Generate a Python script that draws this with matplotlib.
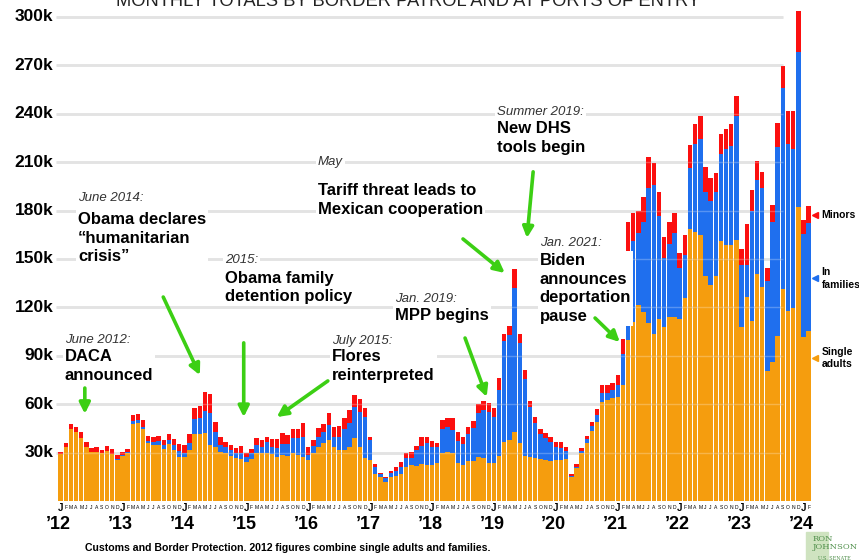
import matplotlib.pyplot as plt

# monthly totals in thousands, Jan 2012 - Feb 2024
single_adults = [
    29.0, 33.5, 44.6, 42.8, 39.0, 33.5, 30.4, 30.5, 29.8, 31.0, 29.0, 25.5,
    28.0, 29.5, 48.0, 48.5, 44.5, 36.0, 34.5, 34.5, 32.5, 35.5, 31.5, 27.0,
    27.0, 31.5, 41.5, 41.8, 42.0, 35.0, 33.5, 30.5, 30.0, 28.0, 26.5, 26.0,
    24.4, 25.8, 29.6, 29.6, 30.0, 29.0, 27.5, 28.5, 27.9, 29.6, 28.5, 27.1,
    25.4, 29.9, 33.7, 35.7, 37.8, 33.7, 31.6, 31.6, 33.7, 38.9, 33.7, 26.5,
    25.4, 16.7, 15.1, 12.0, 15.1, 15.5, 16.5, 21.3, 22.3, 21.7, 22.9, 22.3,
    22.0, 23.4, 30.0, 30.6, 30.0, 23.4, 22.3, 25.0, 25.0, 27.1, 26.5, 23.4,
    23.8, 27.9, 36.8, 37.8, 43.0, 35.8, 28.1, 27.5, 26.5, 25.8, 25.4, 25.0,
    25.4, 25.4, 25.8, 14.7, 20.3, 29.6, 35.8, 43.4, 49.2, 61.6, 62.6, 63.7,
    64.7, 71.7, 99.8, 110.8, 121.5, 117.4, 110.2, 103.5, 112.8, 108.1, 113.9, 114.3,
    112.7, 125.7, 168.6, 166.4, 164.9, 139.7, 133.9, 139.7, 161.2, 158.7, 158.7, 161.6,
    108.1, 126.3, 111.6, 140.6, 132.9, 80.6, 86.0, 102.3, 131.4, 117.8, 119.5, 182.5,
    101.9, 105.6,
]
in_families = [
    0, 0, 0, 0, 0, 0, 0, 0, 0, 0, 0, 0.7,
    0.8, 1.0, 1.5, 1.8, 1.5, 1.3, 2.0, 2.5, 2.5, 2.5, 3.0, 4.0,
    3.0, 4.5, 9.0, 9.5, 14.0, 19.5, 9.5, 4.5, 3.5, 3.5, 3.5, 4.0,
    2.6, 3.7, 5.1, 4.1, 6.8, 4.5, 5.4, 6.8, 7.4, 9.3, 10.4, 12.4,
    3.1, 4.4, 6.2, 6.9, 9.3, 5.8, 7.9, 13.0, 14.5, 19.2, 21.7, 25.4,
    12.4, 4.6, 1.6, 2.1, 2.5, 3.3, 4.4, 5.2, 4.2, 9.9, 11.2, 13.8,
    11.5, 10.3, 14.5, 15.4, 14.0, 14.0, 13.0, 16.5, 20.1, 27.6, 29.9, 32.0,
    28.1, 40.9, 62.6, 65.1, 88.9, 62.3, 47.3, 30.6, 21.7, 15.7, 13.5, 11.8,
    7.9, 7.3, 5.4, 0.8, 1.0, 1.6, 2.4, 3.1, 4.1, 5.2, 4.2, 5.1,
    7.2, 19.3, 53.8, 50.4, 44.5, 55.8, 83.7, 92.4, 64.1, 42.4, 45.3, 51.7,
    31.6, 26.8, 37.7, 54.8, 59.5, 51.7, 52.1, 51.7, 53.8, 59.5, 61.6, 76.7,
    38.2, 20.0, 68.2, 58.4, 61.0, 55.8, 86.8, 117.4, 124.5, 103.4, 98.7, 95.7,
    63.5, 66.6,
]
minors = [
    1.5, 2.5, 3.4, 3.2, 3.7, 3.1, 2.4, 3.0, 1.8, 3.0, 3.0, 2.3,
    1.5, 2.0, 3.8, 3.7, 4.0, 2.7, 3.0, 3.5, 3.0, 3.5, 4.0, 4.5,
    4.5, 5.5, 7.0, 7.7, 11.5, 11.5, 6.0, 4.5, 3.0, 3.0, 3.0, 4.0,
    2.6, 2.7, 4.2, 4.1, 3.1, 4.9, 5.5, 6.7, 5.7, 5.9, 5.9, 8.7,
    4.8, 3.5, 5.1, 4.9, 7.6, 6.5, 7.0, 6.7, 8.2, 7.6, 7.6, 5.6,
    2.1, 1.4, 0.9, 1.0, 1.2, 2.5, 3.5, 3.5, 4.1, 2.5, 5.8, 3.4,
    3.5, 2.3, 5.7, 5.3, 7.3, 5.6, 4.2, 4.5, 4.7, 5.4, 5.6, 5.2,
    6.0, 7.3, 3.9, 5.8, 11.8, 5.4, 5.8, 3.9, 3.7, 3.0, 3.1, 3.1,
    3.1, 3.7, 2.5, 1.2, 1.6, 1.5, 2.1, 2.7, 3.7, 5.1, 5.1, 4.6,
    6.0, 9.7, 19.2, 17.2, 14.0, 15.3, 19.2, 13.5, 14.5, 13.4, 14.0, 12.4,
    9.3, 12.4, 14.4, 12.5, 14.5, 15.5, 14.0, 11.8, 12.4, 12.3, 13.3, 13.0,
    9.7, 25.4, 13.0, 12.0, 10.3, 7.9, 10.7, 14.5, 13.4, 20.2, 23.6, 25.2,
    8.8, 10.7,
]
years = ['\u201912', '\u201913', '\u201914', '\u201915', '\u201916', '\u201917', '\u201918',
         '\u201919', '\u201920', '\u201921', '\u201922', '\u201923', '\u201924']
month_letters = ['J', 'F', 'M', 'A', 'M', 'J', 'J', 'A', 'S', 'O', 'N', 'D']
y_ticks = [30, 60, 90, 120, 150, 180, 210, 240, 270, 300]

ORANGE = '#f59d0e'
BLUE = '#1f6fee'
RED = '#fb0f0f'
GREEN = '#3ccf14'

plt.rcParams['font.family'] = ['Liberation Sans', 'DejaVu Sans']

fig = plt.figure(figsize=(8.59, 5.6), dpi=100)
ax = fig.add_axes([0.064, 0.1054, 0.902, 0.8946])
ax.set_xlim(-1.085, 149.1)
ax.set_ylim(0, 310.5)
for s in ax.spines.values():
    s.set_visible(False)
ax.set_xticks([])
ax.set_yticks([])

n = len(single_adults)
xs = list(range(n))
fam_base = [a for a in single_adults]
min_base = [a + f for a, f in zip(single_adults, in_families)]

ax.hlines(y_ticks, -0.8, 140, color='#dadada', lw=1.8, zorder=0)
ax.bar(xs, single_adults, width=0.86, color=ORANGE, zorder=2)
ax.bar(xs, in_families, width=0.86, bottom=fam_base, color=BLUE, zorder=2)
ax.bar(xs, minors, width=0.86, bottom=min_base, color=RED, zorder=2)
ax.hlines(y_ticks, -0.8, 140, color='white', lw=1, alpha=0.25, zorder=3)

for t in y_ticks:
    ax.text(-1.4, t, f'{t}k', ha='right', va='center', fontsize=12.5,
            fontweight='bold', clip_on=False)

# month initials and year labels under the bars
for i in xs:
    mo = i % 12
    if mo == 0:
        ax.text(i, -4.3, 'J', ha='center', va='center', fontsize=7,
                fontweight='bold', clip_on=False)
        ax.text(i - 0.4, -14.5, years[i // 12], ha='center', va='center',
                fontsize=13, fontweight='bold', clip_on=False)
    else:
        ax.text(i, -4.3, month_letters[mo], ha='center', va='center',
                fontsize=3.6, clip_on=False)

# right-hand key
key = [(177, 'Minors', RED), (138, 'In\nfamilies', BLUE), (88.7, 'Single\nadults', ORANGE)]
for yv, lab, col in key:
    ax.plot(146.3, yv, marker='<', color=col, markersize=5, clip_on=False)
    ax.text(147.5, yv, lab, ha='left', va='center', fontsize=7.5,
            fontweight='bold', linespacing=1.3, clip_on=False)

box = dict(facecolor='white', edgecolor='none', pad=1.5)


def note(x, y_small, y_big, small, big):
    ax.text(x, y_small, small, fontsize=9.5, fontstyle='italic', color='#333333',
            ha='left', va='center', bbox=box, zorder=5)
    ax.text(x, y_big, big, fontsize=12, fontweight='bold', color='black',
            ha='left', va='top', linespacing=1.3, bbox=box, zorder=5)


def arrow(x0, y0, x1, y1):
    ax.annotate('', xy=(x1, y1), xytext=(x0, y0), zorder=6,
                arrowprops=dict(arrowstyle='-|>', color=GREEN, lw=2.6,
                                mutation_scale=16, shrinkA=0, shrinkB=0))


note(0.85, 99.8, 94.2, 'June 2012:', 'DACA\nannounced')
arrow(4.7, 70, 4.7, 54)
note(3.4, 187.8, 179, 'June 2014:', 'Obama declares\n\u201chumanitarian\ncrisis\u201d')
arrow(19.9, 126.4, 27, 78)
note(31.9, 149.4, 142.6, '2015:', 'Obama family\ndetention policy')
arrow(35.5, 98, 35.5, 52)
note(52.6, 99.2, 94.2, 'July 2015:', 'Flores\nreinterpreted')
arrow(51.8, 74.4, 41.9, 52)
note(49.9, 210, 197, 'May', 'Tariff threat leads to\nMexican cooperation')
arrow(78, 162.4, 86.1, 141.3)
note(84.6, 241, 235.5, 'Summer 2019:', 'New DHS\ntools begin')
arrow(91.6, 204, 90.4, 163)
note(64.8, 125, 119.6, 'Jan. 2019:', 'MPP begins')
arrow(78.4, 101, 82.6, 64.5)
note(92.9, 160, 153.7, 'Jan. 2021:', 'Biden\nannounces\ndeportation\npause')
arrow(103.6, 113.4, 108.4, 98.5)

fig.text(0.475, 1 - 6 / 560, 'MONTHLY TOTALS BY BORDER PATROL AND AT PORTS OF ENTRY',
         ha='center', va='baseline', fontsize=13.2, color='#222222')
fig.text(85 / 859, 1 - 548 / 560,
         'Customs and Border Protection. 2012 figures combine single adults and families.',
         ha='left', va='center', fontsize=7.6, fontweight='bold')

# senate office logo
fig.patches.append(plt.Rectangle((806 / 859, 0), 22 / 859, 28 / 560,
                                 transform=fig.transFigure, color='#cfe3c0', zorder=0))
fig.text(813 / 859, 1 - 543 / 560, 'RON\nJOHNSON', ha='left', va='center',
         fontsize=6, family='DejaVu Serif', color='#4f8f4a', linespacing=0.95)
fig.text(818 / 859, 1 - 559 / 560, 'U.S. SENATE', ha='left', va='center',
         fontsize=3.5, family='DejaVu Serif', color='#4f8f4a')

fig.savefig('out.png', dpi=100)
